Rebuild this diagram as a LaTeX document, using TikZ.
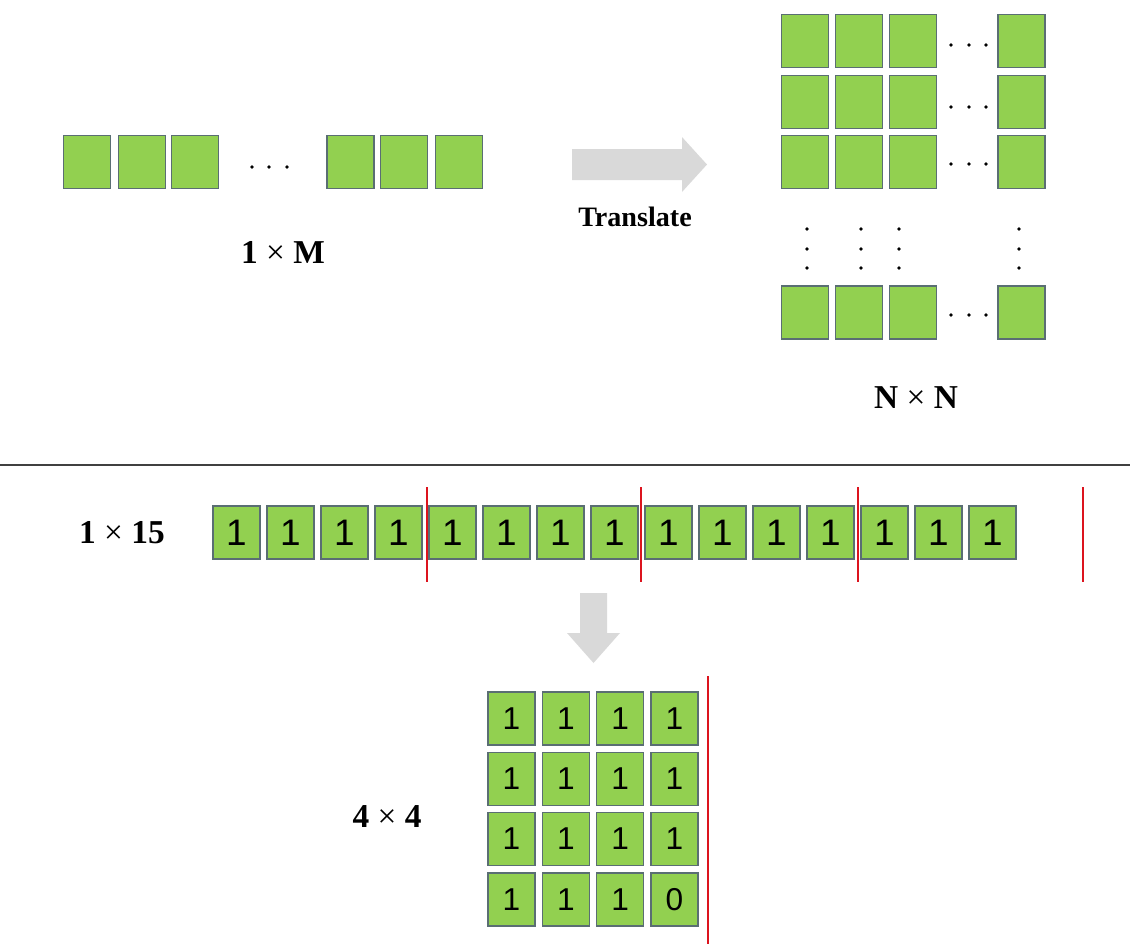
\documentclass[tikz,border=0pt]{standalone}
\usepackage{fontspec}
\setmainfont{Liberation Serif}
\newfontfamily\cellfont{Liberation Sans}
\newcommand{\bytimes}{{\mdseries ×}}
\definecolor{cellgreen}{RGB}{146,208,80}
\definecolor{cellline}{RGB}{90,110,115}
\definecolor{arrowgray}{RGB}{217,217,217}
\definecolor{cutred}{RGB}{220,20,30}
\begin{document}
\begin{tikzpicture}[x=0.02cm, y=-0.02cm,
  cell/.style={draw=cellline, fill=cellgreen, line width=0.7pt,
    minimum width=0.94cm, minimum height=1.06cm, inner sep=0pt},
  rowbit/.style={cell, font=\cellfont\fontsize{21}{21}\selectfont},
  gridbit/.style={cell, font=\cellfont\fontsize{18}{18}\selectfont},
  lbl/.style={font=\bfseries\fontsize{19}{22}\selectfont},
  cut/.style={draw=cutred, line width=0.8pt},
  blockarrow/.style={fill=arrowgray, draw=none}]
\useasboundingbox (0,0) rectangle (1130,944);

% 1 x M row
\foreach \i/\x in {1/87,2/142,3/195,4/350.5,5/404,6/459}
  \node[cell] (m\i) at (\x,162) {};
\foreach \x in {252,269,287}
  \fill (\x,167) circle (1.1pt);
\node[lbl] (lm) at (283,252) {1 \bytimes{} M};

% translate arrow
\fill[blockarrow] (572,149) -- (682,149) -- (682,137) -- (707,164.5)
  -- (682,192) -- (682,180) -- (572,180) -- cycle;
\node[font=\bfseries\fontsize{16}{19}\selectfont] (tr) at (635,217) {Translate};

% N x N grid
\foreach \r/\y in {1/41,2/102,3/162,4/312.5}
  \foreach \c/\x in {1/805,2/859,3/913,4/1021.5}
    \node[cell] (n\r\c) at (\x,\y) {};
\foreach \y in {45,107,164,315}
  \foreach \x in {951,969,986}
    \fill (\x,\y) circle (1.1pt);
\foreach \x in {807,861,899,1019}
  \foreach \y in {229,249,268}
    \fill (\x,\y) circle (1.1pt);
\node[lbl] (ln) at (916,398) {N \bytimes{} N};

% divider
\draw[line width=1pt, black!75] (0,465) -- (1130,465);

% 1 x 15 row
\node[lbl] (l15) at (122,533) {1 \bytimes{} 15};
\foreach \i in {1,...,15}
  \node[rowbit] (b\i) at ({236.5+54*(\i-1)},532.5) {1};
\foreach \k/\x in {1/427,2/641,3/858,4/1083} {
  \coordinate (s\k) at (\x,487);
  \coordinate (e\k) at (\x,582);
  \draw[cut] (s\k) -- (e\k);
}

% down arrow
\fill[blockarrow] (580,593) -- (607,593) -- (607,633) -- (620,633)
  -- (593.5,663) -- (567,633) -- (580,633) -- cycle;

% 4 x 4 grid
\node[lbl] (l44) at (387,817) {4 \bytimes{} 4};
\foreach \r in {1,2,3,4}
  \foreach \c in {1,2,3,4} {
    \pgfmathtruncatemacro{\v}{1-(\r==4)*(\c==4)}
    \node[gridbit] (g\r\c) at ({511.5+54.3*(\c-1)},{718.5+60.3*(\r-1)}) {\v};
  }
\coordinate (gs) at (708,676);
\coordinate (ge) at (708,944);
\draw[cut] (gs) -- (ge);
\end{tikzpicture}
\end{document}
